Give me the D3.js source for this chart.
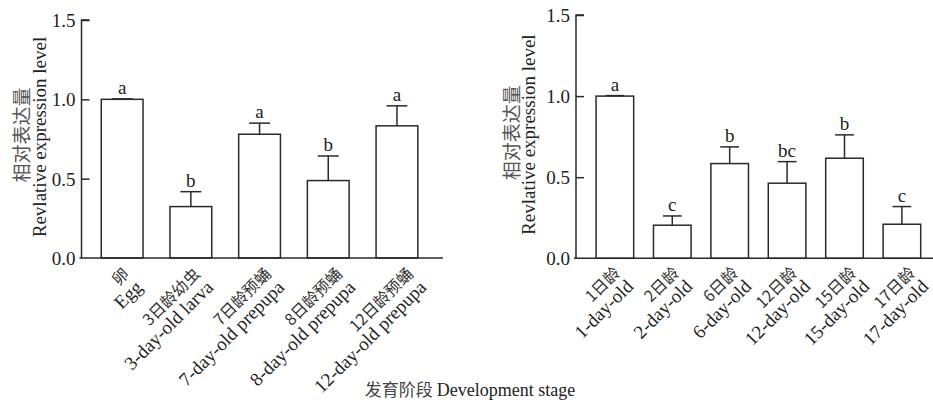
<!DOCTYPE html>
<html>
<head>
<meta charset="utf-8">
<script src="https://cdn.jsdelivr.net/npm/d3@7"></script>
<style>
  html, body { margin: 0; padding: 0; background: #fff; }
  svg { display: block; }
</style>
</head>
<body>
<svg id="chart" width="933" height="403"></svg>
<script>
// ---- Data: left panel ----
const leftCatsCN = ["卵", "3日龄幼虫", "7日龄预蛹", "8日龄预蛹", "12日龄预蛹"];
const leftCatsEN = ["Egg", "3-day-old larva", "7-day-old prepupa", "8-day-old prepupa", "12-day-old prepupa"];
const leftValues = [1.0, 0.324, 0.78, 0.488, 0.833];
const leftErrors = [0.003, 0.094, 0.07, 0.155, 0.126];
const leftLetters = ["a", "b", "a", "b", "a"];

// ---- Data: right panel ----
const rightCatsCN = ["1日龄", "2日龄", "6日龄", "12日龄", "15日龄", "17日龄"];
const rightCatsEN = ["1-day-old", "2-day-old", "6-day-old", "12-day-old", "15-day-old", "17-day-old"];
const rightValues = [1.0, 0.204, 0.584, 0.463, 0.617, 0.21];
const rightErrors = [0.003, 0.057, 0.103, 0.133, 0.144, 0.109];
const rightLetters = ["a", "c", "b", "bc", "b", "c"];

const yTicks = [0.0, 0.5, 1.0, 1.5];
const yLabelCN = "相对表达量";
const yLabelEN = "Revlative expression level";
const xTitleCN = "发育阶段";
const xTitleEN = "Development stage";

const LAT = '"Liberation Serif", "Times New Roman", "DejaVu Serif", serif';
const CJK = '"Noto Sans CJK SC", "Noto Sans CJK JP", sans-serif';

const svg = d3.select("#chart");
const ink = "#2a2a2a";

function lat(sel, size) { return sel.style("font-family", LAT).style("font-size", size + "px").attr("fill", "#222"); }
function cjk(sel, size, col) { return sel.style("font-family", CJK).style("font-size", size + "px").attr("fill", col || "#444"); }

function panel(cfg) {
  const g = svg.append("g");
  const n = cfg.cn.length;
  const x = d3.scaleBand().domain(d3.range(n))
    .range([cfg.x0, cfg.x1]).paddingInner(cfg.pi).paddingOuter(cfg.po).align(cfg.align);
  const y = d3.scaleLinear().domain([0, 1.5]).range([cfg.yBottom, cfg.yTop]);
  // label anchor scale
  const lx = d3.scalePoint().domain(d3.range(n)).range(cfg.labelRange);

  // bars
  g.selectAll("rect.bar").data(cfg.values).join("rect")
    .attr("x", (d, i) => x(i)).attr("width", x.bandwidth())
    .attr("y", d => y(d)).attr("height", d => y(0) - y(d))
    .attr("fill", "#fff").attr("stroke", ink).attr("stroke-width", 1.5);

  // error bars
  const cap = x.bandwidth() / 2;
  cfg.values.forEach((v, i) => {
    const cx = x(i) + x.bandwidth() / 2;
    const top = y(v + cfg.errors[i]);
    g.append("line").attr("x1", cx).attr("x2", cx).attr("y1", y(v)).attr("y2", top)
      .attr("stroke", ink).attr("stroke-width", 1.5);
    g.append("line").attr("x1", cx - cap / 2).attr("x2", cx + cap / 2).attr("y1", top).attr("y2", top)
      .attr("stroke", ink).attr("stroke-width", 1.5);
    lat(g.append("text"), 19).attr("x", cx).attr("y", top - 5)
      .attr("text-anchor", "middle").text(cfg.letters[i]);
  });

  // y axis (ticks pointing inward)
  const yAxis = d3.axisRight(y).tickValues(yTicks).tickSize(8).tickFormat(d3.format(".1f"));
  const ya = g.append("g").attr("transform", `translate(${cfg.x0},0)`).call(yAxis);
  ya.attr("font-family", null).attr("font-size", null);
  ya.select(".domain").attr("stroke", ink).attr("stroke-width", 1.5).attr("d", `M8,${cfg.yTop}H0V${cfg.yBottom}`);
  ya.selectAll(".tick line").attr("stroke", ink).attr("stroke-width", 1.5);
  lat(ya.selectAll(".tick text"), 19).attr("x", -6).attr("dy", "0.35em").attr("text-anchor", "end");
  ya.selectAll(".tick").filter(d => d === 0).select("line").remove();

  // x axis line
  g.append("line").attr("x1", cfg.x0 - 2).attr("x2", cfg.x1).attr("y1", y(0)).attr("y2", y(0))
    .attr("stroke", ink).attr("stroke-width", 1.5);

  // x labels
  cfg.cn.forEach((c, i) => {
    const t = g.append("g").attr("transform", `translate(${lx(i)},${cfg.labelY}) rotate(-45)`);
    cjk(t.append("text"), 16, "#333").attr("text-anchor", "end").text(c);
    lat(t.append("text"), 19).attr("text-anchor", "end").attr("y", 19).text(cfg.en[i]);
  });

  // y labels
  const mid = (cfg.yTop + cfg.yBottom) / 2;
  cjk(g.append("text"), 19, "#555").attr("text-anchor", "middle")
    .attr("transform", `translate(${cfg.ylabCN},${mid - 4}) rotate(-90)`).text(yLabelCN);
  lat(g.append("text"), 19).attr("text-anchor", "middle")
    .attr("transform", `translate(${cfg.ylabEN},${mid - 2}) rotate(-90)`).text(yLabelEN);
}

panel({
  cn: leftCatsCN, en: leftCatsEN, values: leftValues, errors: leftErrors, letters: leftLetters,
  x0: 81.5, x1: 443, pi: 0.392, po: 0.327, align: 0.44,
  yBottom: 258, yTop: 20, labelRange: [130, 414], labelY: 275,
  ylabCN: 29, ylabEN: 46
});
panel({
  cn: rightCatsCN, en: rightCatsEN, values: rightValues, errors: rightErrors, letters: rightLetters,
  x0: 576, x1: 933, pi: 0.345, po: 0.282, align: 0.62,
  yBottom: 258.3, yTop: 15, labelRange: [621, 916], labelY: 274,
  ylabCN: 519, ylabEN: 535
});

// bottom title
const title = svg.append("text").attr("x", 470).attr("y", 396).attr("text-anchor", "middle");
cjk(title.append("tspan"), 17, "#444").text(xTitleCN + " ");
lat(title.append("tspan"), 18).text(xTitleEN);
</script>
</body>
</html>
